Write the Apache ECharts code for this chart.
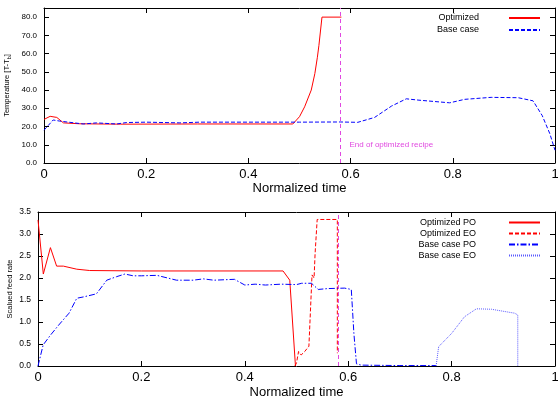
<!DOCTYPE html>
<html>
<head>
<meta charset="utf-8">
<title>Optimized recipe vs base case</title>
<script src="https://cdn.jsdelivr.net/npm/echarts@6/dist/echarts.min.js"></script>
<style>
  html, body { margin: 0; padding: 0; background: #fff; }
  #chart { width: 558px; height: 400px; }
</style>
</head>
<body>
<div id="chart"></div>
<script>
// --- data ------------------------------------------------------------------

// top panel: temperature
const optTempTime = [0, 0.012, 0.025, 0.038, 0.07, 0.15, 0.3, 0.487, 0.5, 0.51, 0.523, 0.53, 0.535, 0.538, 0.541, 0.544, 0.582]
const optTemp = [23.9, 25.6, 25.0, 22.0, 21.5, 21.3, 21.4, 21.4, 25.4, 30.8, 40, 49, 58, 64.5, 65.5, 80, 80]

const baseTempTime = [0, 0.018, 0.03, 0.045, 0.077, 0.103, 0.142, 0.162, 0.2, 0.266, 0.305, 0.4, 0.5, 0.58, 0.614, 0.647, 0.68, 0.709, 0.732, 0.794, 0.823, 0.875, 0.928, 0.957, 0.975, 0.99, 1.0]
const baseTemp = [18, 23.6, 23.0, 22.5, 21.4, 22.0, 21.4, 22.2, 22.4, 22.0, 22.4, 22.4, 22.4, 22.5, 22.3, 25, 31.2, 35.2, 34.5, 33, 34.9, 36, 35.8, 34.1, 26, 16, 7]

// bottom panel: scaled feed rates
const optPOTime = [0, 0.0103, 0.024, 0.036, 0.049, 0.075, 0.1, 0.2, 0.474, 0.487, 0.498]
const optPO = [3.32, 2.09, 2.69, 2.27, 2.27, 2.2, 2.17, 2.16, 2.16, 1.95, 0]

const optEOTime = [0.497, 0.5, 0.504, 0.509, 0.516, 0.524, 0.527, 0.53, 0.532, 0.534, 0.536, 0.54, 0.579, 0.579]
const optEO = [0, 0.07, 0.33, 0.25, 0.33, 0.45, 0.43, 2.07, 2.1, 2.0, 2.56, 3.33, 3.33, 0.29]

const basePOTime = [0, 0.01, 0.024, 0.04, 0.06, 0.075, 0.088, 0.113, 0.133, 0.152, 0.168, 0.184, 0.2, 0.23, 0.268, 0.3, 0.32, 0.34, 0.38, 0.4, 0.42, 0.44, 0.47, 0.5, 0.51, 0.529, 0.542, 0.561, 0.593, 0.606, 0.611, 0.616, 0.625, 0.7, 0.77]
const basePO = [0, 0.48, 0.7, 0.93, 1.2, 1.54, 1.57, 1.64, 1.95, 2.03, 2.09, 2.05, 2.05, 2.06, 1.95, 1.95, 1.98, 1.95, 1.97, 1.84, 1.86, 1.84, 1.86, 1.85, 1.88, 1.88, 1.74, 1.76, 1.77, 1.74, 0.74, 0.05, 0.02, 0.01, 0.01]

const baseEOTime = [0.77, 0.775, 0.8, 0.825, 0.848, 0.877, 0.922, 0.928, 0.928]
const baseEO = [0, 0.44, 0.74, 1.12, 1.3, 1.29, 1.2, 1.16, 0]

const recipeEnd = 0.58
const recipeNote = 'End of optimized recipe'
const timeTicks = [0, 0.2, 0.4, 0.6, 0.8, 1]

// --- helpers ---------------------------------------------------------------

const FONT = '"Liberation Sans", Arial, sans-serif'
const RED = '#ff0000'
const BLUE = '#0000ff'
const LIGHT_BLUE = '#5a5aff'
const MAGENTA = '#e048e0'

function zip(xs, ys) {
  return xs.map((x, i) => [x, ys[i]])
}

function timeLabel(v) {
  const hit = timeTicks.find(t => Math.abs(t - v) < 1e-9)
  if (hit === undefined) return ''
  return hit === 0 || hit === 1 ? String(hit) : hit.toFixed(1)
}

/**
 * One time axis; mirror=true gives the label-free copy on the top edge.
 */
function timeAxis(gridIndex, mirror, nameGap) {
  return {
    type: 'value',
    gridIndex,
    min: 0,
    max: 1,
    interval: 0.2,
    position: mirror ? 'top' : 'bottom',
    name: mirror ? '' : 'Normalized time',
    nameLocation: 'middle',
    nameGap,
    nameTextStyle: { fontSize: 13, color: '#000', fontFamily: FONT },
    axisLine: { show: true, onZero: false, lineStyle: { color: '#000', width: 1 } },
    axisTick: { show: true, inside: true, length: 5, lineStyle: { color: '#000' } },
    axisLabel: { show: !mirror, margin: 5, fontSize: 13, color: '#000', fontFamily: FONT, formatter: timeLabel },
    splitLine: { show: false },
  }
}

function valueAxis(gridIndex, mirror, range, labelSize, extra) {
  return Object.assign({
    type: 'value',
    gridIndex,
    min: range[0],
    max: range[1],
    interval: range[2],
    position: mirror ? 'right' : 'left',
    axisLine: { show: true, onZero: false, lineStyle: { color: '#000', width: 1 } },
    axisTick: { show: true, inside: true, length: 5, lineStyle: { color: '#000' } },
    axisLabel: {
      show: !mirror,
      margin: 7,
      fontSize: labelSize,
      color: '#000',
      fontFamily: FONT,
      showMaxLabel: range[1] % range[2] === 0,
      formatter: v => v.toFixed(1),
    },
    splitLine: { show: false },
  }, mirror ? {} : extra)
}

function lineSeries(name, data, color, type, axisIndex) {
  return {
    name,
    type: 'line',
    xAxisIndex: axisIndex,
    yAxisIndex: axisIndex,
    data,
    symbol: 'none',
    showSymbol: false,
    animation: false,
    lineStyle: { color, type, width: 1 },
    itemStyle: { color },
    z: 3,
  }
}

// fresh object each call, echarts mutates what it is given
function recipeLine() {
  return {
    symbol: ['none', 'none'],
    silent: true,
    label: { show: false },
    lineStyle: { color: MAGENTA, type: [4, 3], width: 1, opacity: 1 },
    emphasis: { disabled: true },
    data: [{ xAxis: recipeEnd }],
  }
}

// --- chart -----------------------------------------------------------------

const chart = echarts.init(document.getElementById('chart'), null, { renderer: 'canvas' })

const topSeries = [
  lineSeries('Optimized', zip(optTempTime, optTemp), RED, 'solid', 0),
  lineSeries('Base case', zip(baseTempTime, baseTemp), BLUE, [4, 2], 0),
]
topSeries[0].markLine = recipeLine()
topSeries[0].markPoint = {
  symbol: 'circle',
  symbolSize: 0,
  silent: true,
  label: { show: true, position: 'right', distance: 2, formatter: recipeNote, color: MAGENTA, fontSize: 8, fontFamily: FONT },
  data: [{ coord: [0.594, 9.9] }],
}

const bottomSeries = [
  lineSeries('Optimized PO', zip(optPOTime, optPO), RED, 'solid', 2),
  lineSeries('Optimized EO', zip(optEOTime, optEO), RED, [4, 2], 2),
  lineSeries('Base case PO', zip(basePOTime, basePO), BLUE, [6, 2, 1.5, 2], 2),
  lineSeries('Base case EO', zip(baseEOTime, baseEO), LIGHT_BLUE, [1, 1], 2),
]
bottomSeries[1].markLine = recipeLine()

/**
 * gnuplot style key: text, a wide gap, then the line sample on the right
 */
function legend(series, top, itemHeight, itemGap, gap) {
  return {
    data: series.map(s => s.name),
    orient: 'vertical',
    right: 17,
    top,
    padding: 0,
    align: 'right',
    itemWidth: 31,
    itemHeight,
    itemGap,
    selectedMode: false,
    itemStyle: { opacity: 0 },
    formatter: name => name + '{pad|}',
    textStyle: {
      fontSize: 9, color: '#000', fontFamily: FONT,
      rich: { pad: { width: gap } },
    },
  }
}

function yName(text, gap, rich) {
  return {
    name: text,
    nameLocation: 'middle',
    nameGap: gap,
    nameMoveOverlap: false,
    nameTextStyle: { fontSize: 7.5, color: '#000', fontFamily: FONT, rich },
  }
}

chart.setOption({
  animation: false,
  textStyle: { fontFamily: FONT },
  grid: [
    { left: 44, top: 8, right: 3, height: 155, outerBoundsMode: 'none', containLabel: false },
    { left: 38, top: 212, right: 3, height: 154, outerBoundsMode: 'none', containLabel: false },
  ],
  legend: [
    legend(topSeries, 13.5, 10, 3, 25),
    legend(bottomSeries, 218, 9, 2, 28),
  ],
  xAxis: [
    timeAxis(0, false, 18),
    timeAxis(0, true, 0),
    timeAxis(1, false, 20),
    timeAxis(1, true, 0),
  ],
  yAxis: [
    valueAxis(0, false, [0, 85, 10], 8,
      yName('Temperature [T-T{sub|b}]', 32, { sub: { fontSize: 5.5, color: '#000', padding: [5, 0, 0, 0] } })),
    valueAxis(0, true, [0, 85, 10], 8),
    valueAxis(1, false, [0, 3.5, 0.5], 8.5, yName('Scalued feed rate', 24)),
    valueAxis(1, true, [0, 3.5, 0.5], 8.5),
  ],
  series: topSeries.concat(bottomSeries),
})

window.addEventListener('resize', () => chart.resize())
</script>
</body>
</html>
